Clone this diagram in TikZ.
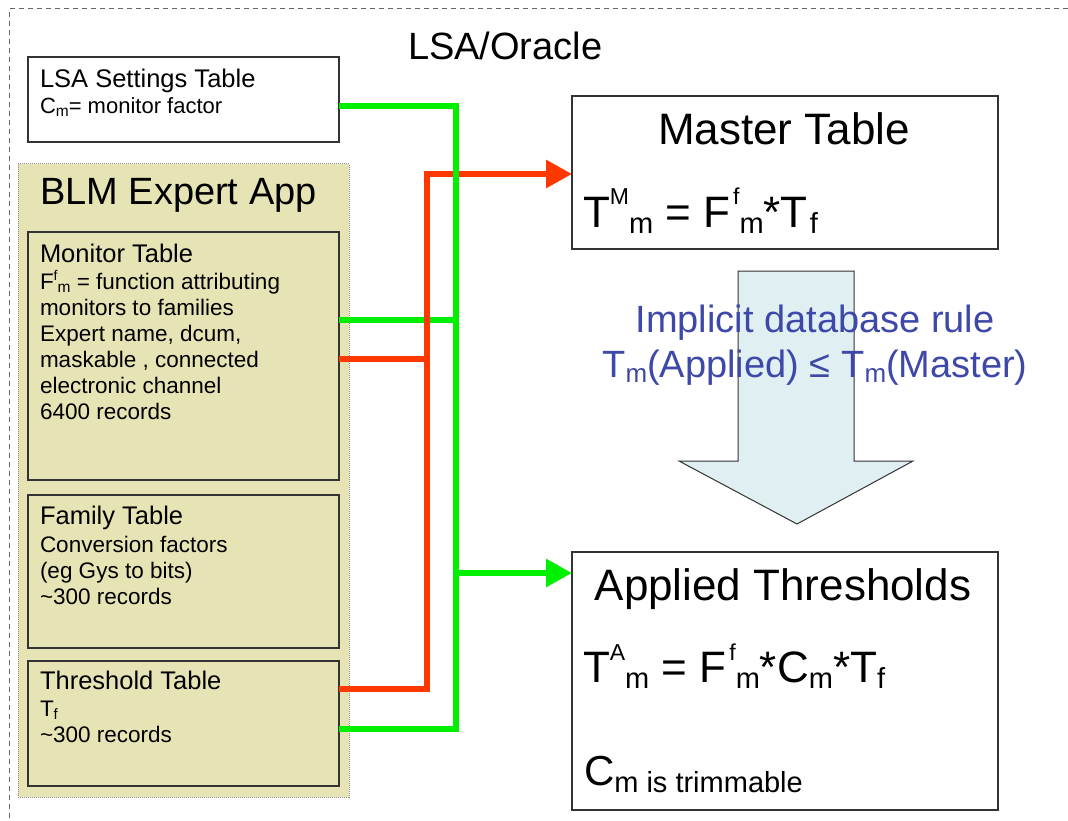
\documentclass[tikz,border=0pt]{standalone}
\usepackage{fontspec}
\setmainfont{Liberation Sans}
\usetikzlibrary{arrows.meta}
\definecolor{lgreen}{RGB}{0,240,0}
\definecolor{lred}{RGB}{255,56,0}
\definecolor{khaki}{RGB}{230,228,180}
\definecolor{arrowfill}{RGB}{223,239,242}
\definecolor{ruleblue}{RGB}{62,72,168}
\newcommand\myfs[1]{\fontsize{#1}{#1}\selectfont}
\newcommand\mylow[3]{\raisebox{-#1pt}{\myfs{#2}#3}}
\newcommand\myhigh[3]{\raisebox{#1pt}{\myfs{#2}#3}}
\begin{document}
\begin{tikzpicture}[x=1pt,y=-1pt,
  every node/.style={inner sep=0pt, outer sep=0pt},
  box/.style={draw=black!80, line width=1.2pt, anchor=north west},
  container/.style={draw=black!45, line width=1pt, dash pattern=on 1pt off 1pt, fill=khaki, anchor=north west},
  txt/.style={anchor=base west},
  ctxt/.style={anchor=base},
  frame/.style={draw=black!60, line width=1pt, dash pattern=on 5pt off 4pt},
  gline/.style={draw=lgreen, line width=6pt},
  rline/.style={draw=lred, line width=6pt},
  tip/.style={-{Triangle[length=26pt,width=27pt]}}
]
\useasboundingbox (0,0) rectangle (1068,821);
% outer dashed frame
\draw[frame] (1068,9) -- (9,9) -- (9,821);
\node[txt] (oracle) at (408,60) {\myfs{38}LSA/Oracle};

% LSA settings table
\node[box, minimum width=311pt, minimum height=85pt] (lsa) at (28,57) {};
\node[txt] (lsa1) at (40,88) {\myfs{25.5}LSA Settings Table};
\node[txt] (lsa2) at (40,114) {\myfs{22}C\mylow{3}{15.5}{m}= monitor factor};

% BLM Expert App container
\node[container, minimum width=331pt, minimum height=633pt] (blm) at (18,164) {};
\node[txt] (blmT) at (40,205) {\myfs{38}BLM Expert App};

% Monitor table
\node[box, minimum width=311pt, minimum height=248pt] (mon) at (28,232) {};
\node[txt] (mon0) at (40,262) {\myfs{25.5}Monitor Table};
\node[txt] (mon1) at (40,289) {\myfs{22.5}F\myhigh{9}{14}{f}\mylow{3}{15.5}{m} = function attributing};
\node[txt] (mon2) at (40,315) {\myfs{22.5}monitors to families};
\node[txt] (mon3) at (40,341) {\myfs{22.5}Expert name, dcum,};
\node[txt] (mon4) at (40,367) {\myfs{22.5}maskable , connected};
\node[txt] (mon5) at (40,393) {\myfs{22.5}electronic channel};
\node[txt] (mon6) at (40,419) {\myfs{22.5}6400 records};

% Family table
\node[box, minimum width=311pt, minimum height=153pt] (fam) at (28,495) {};
\node[txt] (fam0) at (40,524) {\myfs{25.5}Family Table};
\node[txt] (fam1) at (40,552) {\myfs{22.5}Conversion factors};
\node[txt] (fam2) at (40,578) {\myfs{22.5}(eg Gys to bits)};
\node[txt] (fam3) at (40,604) {\myfs{22.5}\textasciitilde 300 records};

% Threshold table
\node[box, minimum width=311pt, minimum height=125pt] (thr) at (28,661) {};
\node[txt] (thr0) at (40,689) {\myfs{25.5}Threshold Table};
\node[txt] (thr1) at (40,716) {\myfs{22.5}T\mylow{3}{15}{f}};
\node[txt] (thr2) at (40,742) {\myfs{22.5}\textasciitilde 300 records};

% Master table
\node[box, minimum width=426pt, minimum height=153pt] (master) at (572,96) {};
\node[ctxt] (masterT) at (784,145) {\myfs{44}Master Table};
\node[txt] (masterE) at (583,227) {\myfs{44}T\myhigh{23}{23}{M}\mylow{6}{29}{m} = F\kern3pt\myhigh{23}{23}{f}\mylow{6}{29}{m}*T\kern2pt\mylow{6}{29}{f}};

% Applied thresholds
\node[box, minimum width=426pt, minimum height=258pt] (app) at (572,552) {};
\node[ctxt] (appT) at (783,600) {\myfs{44}Applied Thresholds};
\node[txt] (appE) at (583,682) {\myfs{44}T\myhigh{22}{23}{A}\mylow{6}{29}{m} = F\kern3pt\myhigh{22}{23}{f}\mylow{6}{29}{m}*C\mylow{6}{29}{m}*T\mylow{6}{29}{f}};
\node[txt] (appC) at (584,785) {\myfs{42}C\mylow{7}{29}{m is trimmable}};

% block arrow
\draw[fill=arrowfill, draw=black!80, line width=1pt, line join=miter]
  (738,271) -- (854,271) -- (854,461) -- (913,461) -- (797,524) -- (679,461) -- (738,461) -- cycle;
\node[ctxt, text=ruleblue] (rule1) at (815,332) {\myfs{38}Implicit database rule};
\node[ctxt, text=ruleblue] (rule2) at (815,377) {\myfs{38}T\mylow{5}{26}{m}(Applied) ≤ T\mylow{5}{26}{m}(Master)};

% connectors
\coordinate (gx) at (456,0);
\coordinate (rx) at (427,0);
\draw[gline] (mon.east |- 0,320) -- (gx |- 0,320);
\draw[rline] (mon.east |- 0,359) -- (rx |- 0,359);
\draw[rline, line join=miter, tip] (thr.east |- 0,689) -- (rx |- 0,689) -- (rx |- 0,174) -- (master.west |- 0,174);
\draw[gline, line join=miter] (lsa.east |- 0,106) -- (gx |- 0,106) -- (gx |- 0,729) -- (thr.east |- 0,729);
\draw[gline, tip] (gx |- 0,573) -- (app.west |- 0,573);
\end{tikzpicture}
\end{document}
